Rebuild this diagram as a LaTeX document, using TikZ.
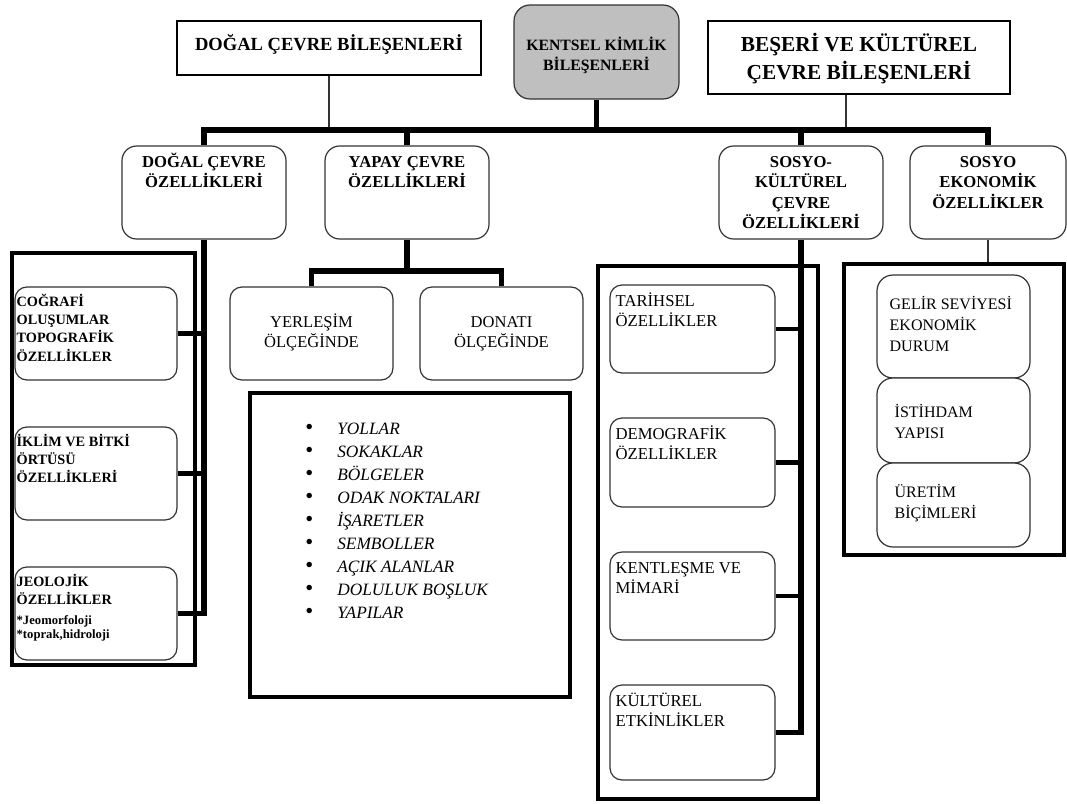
\documentclass[tikz,border=0pt]{standalone}
\usepackage{fontspec}
\setmainfont{Liberation Serif}
\usetikzlibrary{positioning,fit}

% first-line strut, one em high
\newcommand{\fstrut}{\rule{0pt}{1em}}

\tikzset{
  hdrbox/.style={draw, line width=0.9pt, inner sep=0pt},
  rbox/.style={draw=black!80, line width=0.9pt, rounded corners=11pt, fill=white, inner sep=0pt},
  sbox/.style={draw=black!80, line width=0.9pt, rounded corners=9pt, fill=white, inner sep=0pt},
  framebox/.style={draw, line width=3.2pt, inner sep=0pt},
  conn/.style={line width=4.2pt},
  branch/.style={line width=3.2pt},
  thinconn/.style={line width=0.8pt, black!80},
  ctxt/.style={inner sep=0pt, anchor=north, align=center},
  ltxt/.style={inner sep=0pt, anchor=north west, align=left},
  toptxt/.style={ctxt, font=\bfseries\fontsize{12.5}{15.4}\selectfont},
  coltxt/.style={ltxt, font=\bfseries\fontsize{10.7}{13.7}\selectfont},
  smalltxt/.style={ltxt, font=\bfseries\fontsize{9.5}{10}\selectfont},
  sktxt/.style={ltxt, font=\fontsize{12.5}{15}\selectfont},
  setxt/.style={ltxt, font=\fontsize{12}{15.75}\selectfont},
  listtxt/.style={inner sep=0pt, anchor=base west, font=\itshape\fontsize{13}{15}\selectfont},
}

\begin{document}
\begin{tikzpicture}[x=0.75pt, y=-0.75pt]
    \useasboundingbox (0,0) rectangle (1067,803);

    % Top row
    \node[hdrbox, fit={(177,21) (481,75)}] (hdrL) {};
    \node[ctxt, font=\bfseries\fontsize{13.9}{16}\selectfont, below=8.65pt of hdrL.north] (hdrL-t) {\fstrut DOĞAL ÇEVRE BİLEŞENLERİ};
    \node[rbox, fill=black!25, rounded corners=12pt, fit={(514,5) (679,99)}] (kentsel) {};
    \node[ctxt, font=\bfseries\fontsize{11.8}{14.6}\selectfont, below=22.85pt of kentsel.north] (kentsel-t) {\fstrut KENTSEL KİMLİK\\BİLEŞENLERİ};
    \node[hdrbox, fit={(708,21) (1010,94)}] (hdrR) {};
    \node[ctxt, font=\bfseries\fontsize{16}{21}\selectfont, below=7.25pt of hdrR.north] (hdrR-t) {\fstrut BEŞERİ VE KÜLTÜREL\\ÇEVRE BİLEŞENLERİ};

    % Second row
    \node[rbox, fit={(122,146) (286,239)}] (dcoz) {};
    \node[toptxt, below=3.6pt of dcoz.north] (dcoz-t) {\fstrut DOĞAL ÇEVRE\\ÖZELLİKLERİ};
    \node[rbox, fit={(325,146) (489,239)}] (yaoz) {};
    \node[toptxt, below=3.6pt of yaoz.north] (yaoz-t) {\fstrut YAPAY ÇEVRE\\ÖZELLİKLERİ};
    \node[rbox, fit={(719,146) (883,239)}] (skoz) {};
    \node[toptxt, below=3.6pt of skoz.north] (skoz-t) {\fstrut SOSYO-\\KÜLTÜREL\\ÇEVRE\\ÖZELLİKLERİ};
    \node[rbox, fit={(910,146) (1066,239)}] (seoz) {};
    \node[toptxt, below=3.6pt of seoz.north] (seoz-t) {\fstrut SOSYO\\EKONOMİK\\ÖZELLİKLER};

    % Main bus
    \coordinate (bus) at (0,130);
    \draw[thinconn] (hdrL.south) -- (hdrL.south |- bus);
    \draw[thinconn] ([xshift=-9.75pt]hdrR.south) -- ([xshift=-9.75pt]hdrR.south |- bus);
    \draw[conn] (dcoz.north) -- (dcoz.north |- bus) -- (seoz.north |- bus) -- (seoz.north);
    \draw[conn] (kentsel.south) -- (kentsel.south |- bus);
    \draw[conn] (yaoz.north) -- (yaoz.north |- bus);
    \draw[conn] (skoz.north) -- (skoz.north |- bus);

    % Natural environment column
    \node[framebox, fit={(12,253) (195,665)}] (dcframe) {};
    \node[sbox, fit={(15,287) (177,380)}] (cog) {};
    \node[coltxt, below right=4.05pt and 1.5pt of cog.north west] (cog-t) {\fstrut COĞRAFİ\\OLUŞUMLAR\\TOPOGRAFİK\\ÖZELLİKLER};
    \node[sbox, fit={(15,427) (177,520)}] (ikl) {};
    \node[coltxt, below right=4.05pt and 1.5pt of ikl.north west] (ikl-t) {\fstrut İKLİM VE BİTKİ\\ÖRTÜSÜ\\ÖZELLİKLERİ};
    \node[sbox, fit={(15,567) (177,660)}] (jeo) {};
    \node[coltxt, below right=4.05pt and 1.5pt of jeo.north west] (jeo-t) {\fstrut JEOLOJİK\\ÖZELLİKLER};
    \node[smalltxt, below right=34pt and 1.5pt of jeo.north west] (jeo-s) {\fstrut *Jeomorfoloji\\*toprak,hidroloji};
    \draw[conn] (dcoz.south) |- (jeo.east);
    \draw[branch] (cog.east) -- (cog.east -| dcoz.south);
    \draw[branch] (ikl.east) -- (ikl.east -| dcoz.south);

    % Built environment
    \node[sbox, fit={(230,287) (393,380)}] (yer) {};
    \node[ctxt, font=\fontsize{12.4}{15}\selectfont, below=17.95pt of yer.north] (yer-t) {\fstrut YERLEŞİM\\ÖLÇEĞİNDE};
    \node[sbox, fit={(420,287) (583,380)}] (don) {};
    \node[ctxt, font=\fontsize{12.4}{15}\selectfont, below=17.95pt of don.north] (don-t) {\fstrut DONATI\\ÖLÇEĞİNDE};
    \coordinate (ybus) at (0,271);
    \draw[conn] (yaoz.south) -- (yaoz.south |- ybus);
    \draw[conn] (yer.north) -- (yer.north |- ybus) -- (don.north |- ybus) -- (don.north);
    \node[framebox, fit={(250,393) (570,697)}] (lst) {};
    \foreach \itm [count=\i] in {YOLLAR, SOKAKLAR, BÖLGELER, ODAK NOKTALARI, İŞARETLER, SEMBOLLER, AÇIK ALANLAR, DOLULUK BOŞLUK, YAPILAR}
        \node[listtxt] (li\i) at (305, {434.8+23*(\i-1)}) {\makebox[24pt][l]{\upshape\fontsize{17}{17}\selectfont\textbullet}\itm};

    % Socio-cultural column
    \node[framebox, fit={(598,266) (818,799)}] (skframe) {};
    \node[sbox, fit={(610,285) (775,373)}] (tar) {};
    \node[sktxt, below right=3.6pt and 4.5pt of tar.north west] (tar-t) {\fstrut TARİHSEL\\ÖZELLİKLER};
    \node[sbox, fit={(610,418) (775,507)}] (dem) {};
    \node[sktxt, below right=3.6pt and 4.5pt of dem.north west] (dem-t) {\fstrut DEMOGRAFİK\\ÖZELLİKLER};
    \node[sbox, fit={(610,552) (775,640)}] (ken) {};
    \node[sktxt, below right=3.6pt and 4.5pt of ken.north west] (ken-t) {\fstrut KENTLEŞME VE\\MİMARİ};
    \node[sbox, fit={(610,685) (775,780)}] (kul) {};
    \node[sktxt, below right=3.6pt and 4.5pt of kul.north west] (kul-t) {\fstrut KÜLTÜREL\\ETKİNLİKLER};
    \draw[conn] (skoz.south) |- (kul.east);
    \draw[branch] (tar.east) -- (tar.east -| skoz.south);
    \draw[branch] (dem.east) -- (dem.east -| skoz.south);
    \draw[branch] (ken.east) -- (ken.east -| skoz.south);

    % Socio-economic column
    \node[framebox, fit={(844,264) (1064,555)}] (seframe) {};
    \draw[thinconn] (seoz.south) -- (seoz.south |- seframe.north);
    \node[sbox, rounded corners=12pt, fit={(877,275) (1030,378)}] (gel) {};
    \node[setxt, below right=14.45pt and 9.75pt of gel.north west] (gel-t) {\fstrut GELİR SEVİYESİ\\EKONOMİK\\DURUM};
    \node[sbox, rounded corners=12pt, fit={(877,378) (1030,463)}] (ist) {};
    \node[setxt, below right=18.2pt and 13.5pt of ist.north west] (ist-t) {\fstrut İSTİHDAM\\YAPISI};
    \node[sbox, rounded corners=12pt, fit={(877,463) (1030,547)}] (ure) {};
    \node[setxt, below right=13.75pt and 13.5pt of ure.north west] (ure-t) {\fstrut ÜRETİM\\BİÇİMLERİ};
\end{tikzpicture}
\end{document}
